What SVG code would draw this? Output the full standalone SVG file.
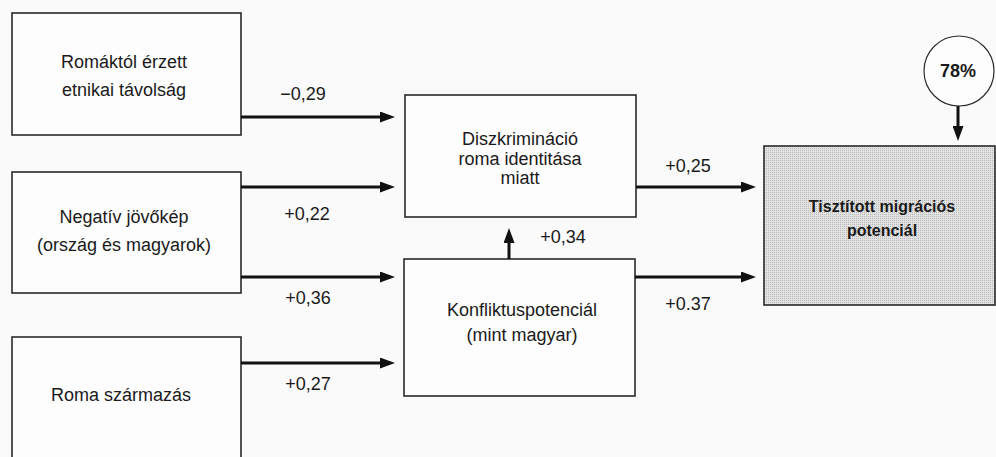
<svg xmlns="http://www.w3.org/2000/svg" width="996" height="457" viewBox="0 0 996 457">
  <defs>
    <marker id="ah" markerUnits="userSpaceOnUse" markerWidth="15" markerHeight="11" refX="1" refY="5.5" orient="auto">
      <path d="M0,0 L15,5.5 L0,11 z" fill="#111"/>
    </marker>
    <pattern id="dots" width="2" height="2" patternUnits="userSpaceOnUse">
      <rect width="2" height="2" fill="#e2e2e2"/>
      <rect width="1" height="1" fill="#b8b8b8"/>
    </pattern>
    <style>
      .box{fill:#fdfdfd;stroke:#2a2a2a;stroke-width:1.6}
      .t{font-family:"Liberation Sans",Arial,sans-serif;font-size:18px;fill:#1a1a1a;text-anchor:middle}
      .b{font-family:"Liberation Sans",Arial,sans-serif;font-size:16px;font-weight:bold;fill:#1a1a1a;text-anchor:middle}
      .c{fill:none;stroke:#111;stroke-width:3;marker-end:url(#ah)}
    </style>
  </defs>
  <rect width="996" height="457" fill="#fafafa"/>

  <g id="n-romaktol">
    <rect class="box" x="12" y="13" width="229" height="122"/>
    <text class="t" x="124" y="68">Romáktól érzett</text>
    <text class="t" x="124" y="96">etnikai távolság</text>
  </g>
  <g id="n-negativ">
    <rect class="box" x="12" y="172" width="229" height="121"/>
    <text class="t" x="124" y="223">Negatív jövőkép</text>
    <text class="t" x="124" y="251">(ország és magyarok)</text>
  </g>
  <g id="n-roma">
    <rect class="box" x="12" y="337" width="229" height="130"/>
    <text class="t" x="121" y="401">Roma származás</text>
  </g>
  <g id="n-diszkr">
    <rect class="box" x="405" y="95" width="231" height="122"/>
    <text class="t" x="520" y="145">Diszkrimináció</text>
    <text class="t" x="520" y="165">roma identitása</text>
    <text class="t" x="520" y="184">miatt</text>
  </g>
  <g id="n-konfl">
    <rect class="box" x="404" y="259" width="231" height="137"/>
    <text class="t" x="522" y="316">Konfliktuspotenciál</text>
    <text class="t" x="522" y="341">(mint magyar)</text>
  </g>
  <g id="n-migr">
    <rect x="764" y="146" width="231" height="159" fill="url(#dots)" stroke="#2a2a2a" stroke-width="1.6"/>
    <text class="b" x="882" y="212">Tisztított migrációs</text>
    <text class="b" x="882" y="236">potenciál</text>
  </g>
  <g id="n-78">
    <circle cx="959" cy="71" r="35" fill="#fdfdfd" stroke="#2a2a2a" stroke-width="1.2"/>
    <text class="b" x="958" y="77" style="font-size:18px">78%</text>
  </g>

  <g id="connectors">
    <line class="c" x1="241" y1="117" x2="381" y2="117"/>
    <line class="c" x1="241" y1="187" x2="381" y2="187"/>
    <line class="c" x1="241" y1="277" x2="381" y2="277"/>
    <line class="c" x1="241" y1="363" x2="381" y2="363"/>
    <line class="c" x1="636" y1="187" x2="742" y2="187"/>
    <line class="c" x1="635" y1="277" x2="742" y2="277"/>
    <line class="c" x1="509" y1="259" x2="509" y2="242"/>
    <line class="c" x1="958" y1="106" x2="958" y2="127"/>
    <text class="t" x="303" y="100">−0,29</text>
    <text class="t" x="307" y="220">+0,22</text>
    <text class="t" x="308" y="304">+0,36</text>
    <text class="t" x="308" y="390">+0,27</text>
    <text class="t" x="563" y="243">+0,34</text>
    <text class="t" x="688" y="172">+0,25</text>
    <text class="t" x="688" y="310">+0.37</text>
  </g>
</svg>
